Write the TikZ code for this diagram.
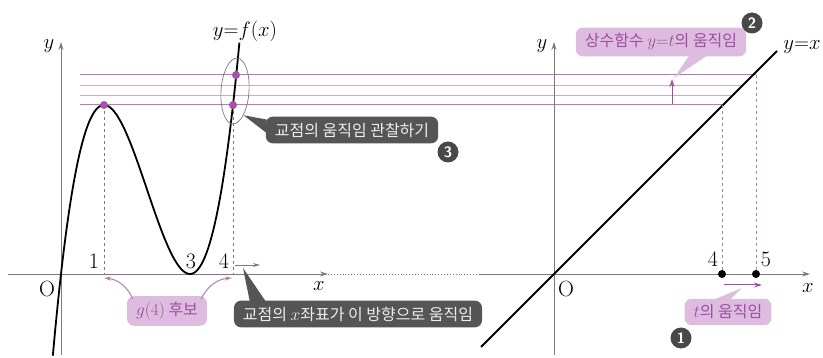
\documentclass[tikz,border=0pt]{standalone}
\usepackage{fontspec}
\newfontfamily\kr{Noto Sans CJK KR}
\usetikzlibrary{arrows.meta,positioning,shapes.geometric,calc}
\definecolor{axgray}{HTML}{7A7A7A}
\definecolor{pkline}{HTML}{D2A8D4}
\definecolor{pkdark}{HTML}{B57BB8}
\definecolor{pkdot}{HTML}{A552A9}
\definecolor{pkfill}{HTML}{DDBCDF}
\definecolor{pktext}{HTML}{9C4FA2}
\definecolor{darkbox}{HTML}{555555}

\begin{document}
\begin{tikzpicture}[x=1pt,y=-1pt,font=\fontsize{22}{24}\selectfont]
    \tikzstyle{ax}=[axgray,line width=0.9pt,-{Stealth[length=8pt,width=5pt]}]
    \tikzstyle{dot}=[circle,fill=pkdot,inner sep=0pt,minimum size=8pt]
    \tikzstyle{bdot}=[circle,fill=black,inner sep=0pt,minimum size=8pt]
    \tikzstyle{pbox}=[fill=pkfill,rounded corners=7pt,text=pktext,inner xsep=9pt,inner ysep=6pt,font=\kr\fontsize{16}{18}\selectfont]
    \tikzstyle{dbox}=[fill=darkbox,rounded corners=7pt,text=white!93!black,inner xsep=9pt,inner ysep=6pt,font=\kr\fontsize{16}{18}\selectfont]
    \tikzstyle{num}=[circle,fill=darkbox!85!black,text=white,inner sep=0pt,minimum size=21pt,font=\sffamily\bfseries\fontsize{15}{15}\selectfont]
    \useasboundingbox (0,0) rectangle (823,358);
    % level lines y=t
    \draw[pkdark,line width=1pt] (80,75) -- (756,75);
    \draw[pkline,line width=1pt] (80,86) -- (741,86);
    \draw[pkline,line width=1pt] (80,96) -- (731,96);
    \draw[pkdark,line width=1pt] (80,105) -- (722,105);
    % left axes
    \draw[ax] (61,355) -- (61,42);
    \draw[ax] (8,274) -- (328,274);
    \draw[axgray,line width=0.9pt,dotted] (328,274) -- (480,274);
    \node at (49,46) {$y$};
    \node at (319,286) {$x$};
    \node at (47,289) {O};
    \node at (94,261) {1};
    \node at (191,261) {3};
    \node at (224,261) {4};
    \draw[axgray,dashed,line width=0.6pt] (104,105) -- (104,274);
    \draw[axgray,dashed,line width=0.6pt] (233,105) -- (233,274);
    % y = f(x)
    \draw[line width=1.8pt] plot[domain=-0.19:4.15,samples=90,smooth]
        ({61+43*\x},{274-42.25*\x*(\x-3)^2});
    \node at (245,31) {$y{=}f(x)$};
    \node[dot] (p1) at (104,105) {};
    \node[dot] (p4) at (233,105) {};
    \node[dot] (p5) at (236,75) {};
    \node[draw=axgray,line width=0.7pt,ellipse,minimum width=28pt,minimum height=66pt,inner sep=0pt,rotate=-4] (ell) at (235,91) {};
    % right axes
    \draw[ax] (554,355) -- (554,42);
    \draw[ax] (480,274) -- (810,274);
    \node at (542,46) {$y$};
    \node at (808,288) {$x$};
    \node at (566,289) {O};
    \draw[line width=1.8pt] (481,347) -- (777,51);
    \node at (802,47) {$y{=}x$};
    \draw[pkdark,dashed,line width=0.9pt] (722,105) -- (722,274);
    \draw[pkdark,dashed,line width=0.9pt] (756,75) -- (756,274);
    \node[bdot] (t4) at (722,274) {};
    \node[bdot] (t5) at (756,274) {};
    \node at (713,259) {4};
    \node at (766,259) {5};
    % callout 1
    \coordinate (ta) at (724,285);
    \coordinate (tb) at (762,285);
    \draw[pktext,line width=1pt,-{Stealth[length=8pt,width=5pt]}] (ta) -- (tb);
    \node[pbox] (tcall) at (728,312) {$t$의 움직임};
    \fill[pkfill] ($(tcall.north)+(-14,1)$) -- ($(tcall.north)+(2,1)$) -- (742,288) -- cycle;
    \node[num] (n1) at (681,338) {1};
    % callout 2
    \coordinate (ua) at (672,104);
    \coordinate (ub) at (672,79);
    \draw[pktext,line width=1pt,-{Stealth[length=8pt,width=5pt]}] (ua) -- (ub);
    \node[pbox] (ucall) at (661,42) {상수함수 $y{=}t$의 움직임};
    \fill[pkfill] ($(ucall.south)+(28,-1)$) -- ($(ucall.south)+(46,-1)$) -- (674,78) -- cycle;
    \node[num] (n2) at (752,23) {2};
    % callout 3
    \node[dbox] (ecall) at (352,130) {교점의 움직임 관찰하기};
    \fill[darkbox] ($(ecall.north west)+(1,3)$) -- ($(ecall.west)+(1,3)$) -- (ell.south east) -- cycle;
    \node[num] (n3) at (448,152) {3};
    % moving x-coordinate
    \coordinate (ma) at (235,265);
    \coordinate (mb) at (260,265);
    \draw[axgray,line width=0.9pt,-{Stealth[length=7pt,width=4pt]}] (ma) -- (mb);
    \node[dbox] (mcall) at (358,314) {교점의 $x$좌표가 이 방향으로 움직임};
    \fill[darkbox] ($(mcall.north west)+(16,1)$) -- ($(mcall.north west)+(32,1)$) -- (243,268) -- cycle;
    % g(4) candidates
    \node[pbox] (gcall) at (167,311) {$g(4)$ 후보};
    \coordinate (g1) at (104,278);
    \coordinate (g4) at (232,278);
    \draw[pkdark,line width=1pt,-{Stealth[length=7pt,width=4pt]}] ($(gcall.north west)+(6,3)$) to[bend right=30] (g1);
    \draw[pkdark,line width=1pt,-{Stealth[length=7pt,width=4pt]}] ($(gcall.north east)+(-6,3)$) to[bend left=30] (g4);
\end{tikzpicture}
\end{document}
